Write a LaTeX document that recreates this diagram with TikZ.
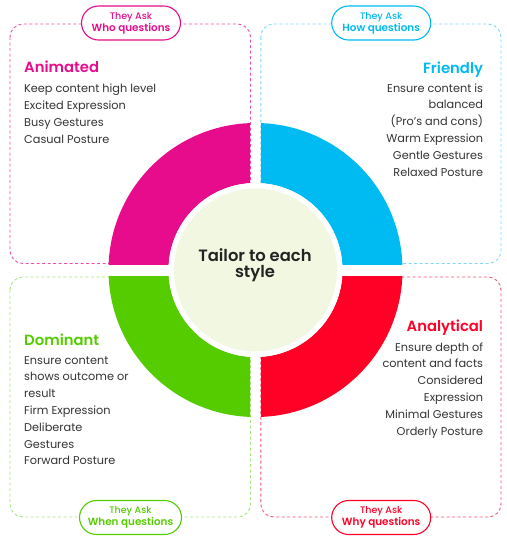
\documentclass[tikz,border=0pt]{standalone}
\usepackage{fontspec}
\setmainfont{Poppins}
\newfontfamily\popsemi{Poppins SemiBold}
\newfontfamily\popmed{Poppins Medium}

\definecolor{magc}{HTML}{E60C8C}
\definecolor{bluec}{HTML}{00BAF2}
\definecolor{greenc}{HTML}{55CC00}
\definecolor{redc}{HTML}{FF0026}
\definecolor{magd}{HTML}{EC4FA8}
\definecolor{blued}{HTML}{80D8F6}
\definecolor{greend}{HTML}{A9E381}
\definecolor{redd}{HTML}{F45671}
\definecolor{corefill}{HTML}{F2F7E2}
\definecolor{bodytxt}{HTML}{333333}
\definecolor{coretxt}{HTML}{232323}

\tikzset{
  boxline/.style={dash pattern=on 3pt off 2.5pt, line width=0.9pt, rounded corners=13pt},
  pill/.style={draw, fill=white, line width=1.1pt, rounded corners=17pt,
    minimum width=99pt, minimum height=34pt, inner sep=0pt, align=center},
  head/.style={font=\popsemi\fontsize{14.8}{18}\selectfont, inner sep=0pt},
  bodytext/.style={font=\fontsize{11.3}{16.8}\selectfont, inner sep=0pt, text=bodytxt},
}
% two-line label of a question pill
\newcommand{\pilltext}[1]{{\popmed\fontsize{9.5}{12}\selectfont They Ask}\\{\popsemi\fontsize{10.4}{12}\selectfont #1}}

\begin{document}
\begin{tikzpicture}[x=1pt,y=-1pt]
\useasboundingbox (0,0) rectangle (507,542);
\coordinate (C) at (255.5,270);

% dashed frames of the four styles
\draw[boxline, draw=magd]   (10,24)    rectangle (250.5,263.5);
\draw[boxline, draw=blued]  (260.8,24) rectangle (501,263.5);
\draw[boxline, draw=greend] (10,277)   rectangle (250.5,517);
\draw[boxline, draw=redd]   (260.8,277) rectangle (501,517);

% ring quadrants
\begin{scope}
  \clip (0,0) rectangle (250.2,264);
  \fill[magc, even odd rule] (C) circle (147pt) (C) circle (87pt);
\end{scope}
\begin{scope}
  \clip (261,0) rectangle (507,264);
  \fill[bluec, even odd rule] (C) circle (147pt) (C) circle (87pt);
\end{scope}
\begin{scope}
  \clip (0,276.5) rectangle (250.2,542);
  \fill[greenc, even odd rule] (C) circle (147pt) (C) circle (87pt);
\end{scope}
\begin{scope}
  \clip (261,276.5) rectangle (507,542);
  \fill[redc, even odd rule] (C) circle (147pt) (C) circle (87pt);
\end{scope}

% centre disc
\fill[white] (C) circle (87pt);
\node[circle, fill=corefill, minimum size=163pt, inner sep=0pt] (core) at (C) {};
\node[font=\popsemi\fontsize{16.4}{16}\selectfont, text=coretxt, align=center, inner sep=0pt, anchor=base]
  (coretitle) at (255,277.7) {Tailor to each\\style};

% question pills
\node[pill, draw=magc, text=magc]  (pillwho)  at (131,23)    {\pilltext{Who questions}};
\node[pill, draw=bluec, text=bluec] (pillhow)  at (381.2,23)  {\pilltext{How questions}};
\node[pill, draw=greenc, text=greenc, minimum width=102pt] (pillwhen) at (130.5,517.5) {\pilltext{When questions}};
\node[pill, draw=redc, text=redc]  (pillwhy)  at (381.2,517.5) {\pilltext{Why questions}};

% Animated (multi-line blocks are placed by the baseline of their last line)
\node[head, text=magc, anchor=base west] (animhead) at (24,72.7) {Animated};
\node[bodytext, anchor=base west, align=left] (animbody) at (24,143.1)
  {Keep content high level\\Excited Expression\\Busy Gestures\\Casual Posture};

% Friendly
\node[head, text=bluec, anchor=base east] (friendhead) at (483.3,73.3) {Friendly};
\node[bodytext, anchor=base east, align=right] (friendbody) at (483.3,176)
  {Ensure content is\\balanced\\(Pro's and cons)\\Warm Expression\\Gentle Gestures\\Relaxed Posture};

% Dominant
\node[head, text=greenc, anchor=base west] (domhead) at (24,345) {Dominant};
\node[bodytext, anchor=base west, align=left] (dombody) at (24,464.8)
  {Ensure content\\shows outcome or\\result\\Firm Expression\\Deliberate\\Gestures\\Forward Posture};

% Analytical
\node[head, text=redc, anchor=base east] (analhead) at (483.3,331.7) {Analytical};
\node[bodytext, anchor=base east, align=right] (analbody) at (483.3,435)
  {Ensure depth of\\content and facts\\Considered\\Expression\\Minimal Gestures\\Orderly Posture};
\end{tikzpicture}
\end{document}
